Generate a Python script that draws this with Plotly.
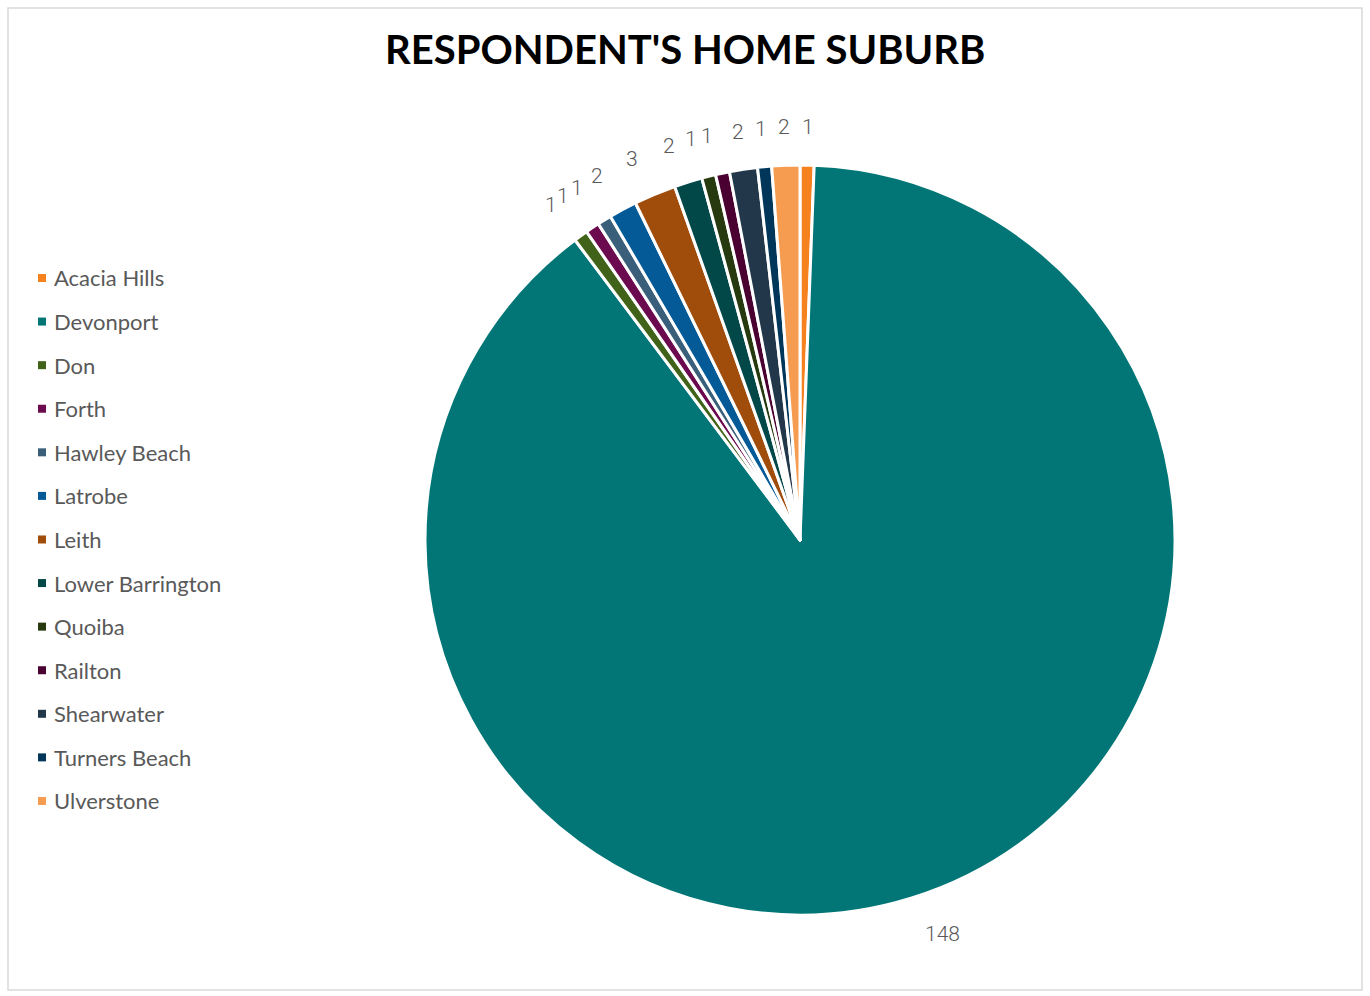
import math
import plotly.graph_objects as go

# Survey responses: home suburb of each respondent
suburbs = ["Acacia Hills", "Devonport", "Don", "Forth", "Hawley Beach", "Latrobe",
           "Leith", "Lower Barrington", "Quoiba", "Railton", "Shearwater",
           "Turners Beach", "Ulverstone"]
counts = [1, 148, 1, 1, 1, 2, 3, 2, 1, 1, 2, 1, 2]
colors = ["#F5821F", "#027676", "#416219", "#6B0A4E", "#3A5F7A", "#045A97",
          "#A04C0A", "#024848", "#273A0F", "#4A0030", "#22384A", "#00365A",
          "#F59C50"]

W, H = 1370, 996
cx, cy, r = 800, 540, 375

fig = go.Figure(go.Pie(
    labels=suburbs,
    values=counts,
    sort=False,
    direction="clockwise",
    rotation=0,
    marker=dict(colors=colors, line=dict(color="white", width=3)),
    textinfo="none",
    showlegend=False,
    hoverinfo="label+value",
    domain=dict(x=[(cx - r) / W, (cx + r) / W], y=[1 - (cy + r) / H, 1 - (cy - r) / H]),
))

shapes = [dict(type="rect", xref="paper", yref="paper", x0=8 / W, x1=1362 / W,
               y0=1 - 990 / H, y1=1 - 8 / H, line=dict(color="#D9D9D9", width=1.5))]
annotations = []

# Value labels just outside each slice, placed at the slice's mid angle
total = sum(counts)
label_r = 413
cum = 0
for v in counts:
    mid = (cum + v / 2) / total * 2 * math.pi
    cum += v
    s, c = math.sin(mid), math.cos(mid)
    px, py = cx + label_r * s, cy - label_r * c
    xanchor = "left" if s > 0.2 else ("right" if s < -0.2 else "center")
    annotations.append(dict(text=str(v), xref="paper", yref="paper",
                            x=px / W, y=1 - py / H, xanchor=xanchor, yanchor="middle",
                            showarrow=False,
                            font=dict(family="Roboto", size=21, color="#595959", weight=300)))

# Legend drawn as coloured squares with labels
legend_x0, legend_y0, legend_step = 38, 278, 43.58
for i, (name, col) in enumerate(zip(suburbs, colors)):
    yc = legend_y0 + legend_step * i
    shapes.append(dict(type="rect", xref="paper", yref="paper",
                       x0=legend_x0 / W, x1=(legend_x0 + 8) / W,
                       y0=1 - (yc + 4) / H, y1=1 - (yc - 4) / H,
                       fillcolor=col, line=dict(width=0)))
    annotations.append(dict(text=name, xref="paper", yref="paper",
                            x=(legend_x0 + 14) / W, y=1 - yc / H,
                            xanchor="left", yanchor="middle", showarrow=False,
                            font=dict(family="Lato", size=22, color="#595959")))

annotations.append(dict(text="<b>RESPONDENT'S HOME SUBURB</b>", xref="paper", yref="paper",
                        x=685 / W, y=1 - 49 / H, xanchor="center", yanchor="middle",
                        showarrow=False, font=dict(family="Lato", size=40, color="#000000")))

fig.update_layout(
    width=W, height=H,
    margin=dict(l=0, r=0, t=0, b=0),
    paper_bgcolor="white",
    shapes=shapes,
    annotations=annotations,
)

fig.write_html("out.html")
